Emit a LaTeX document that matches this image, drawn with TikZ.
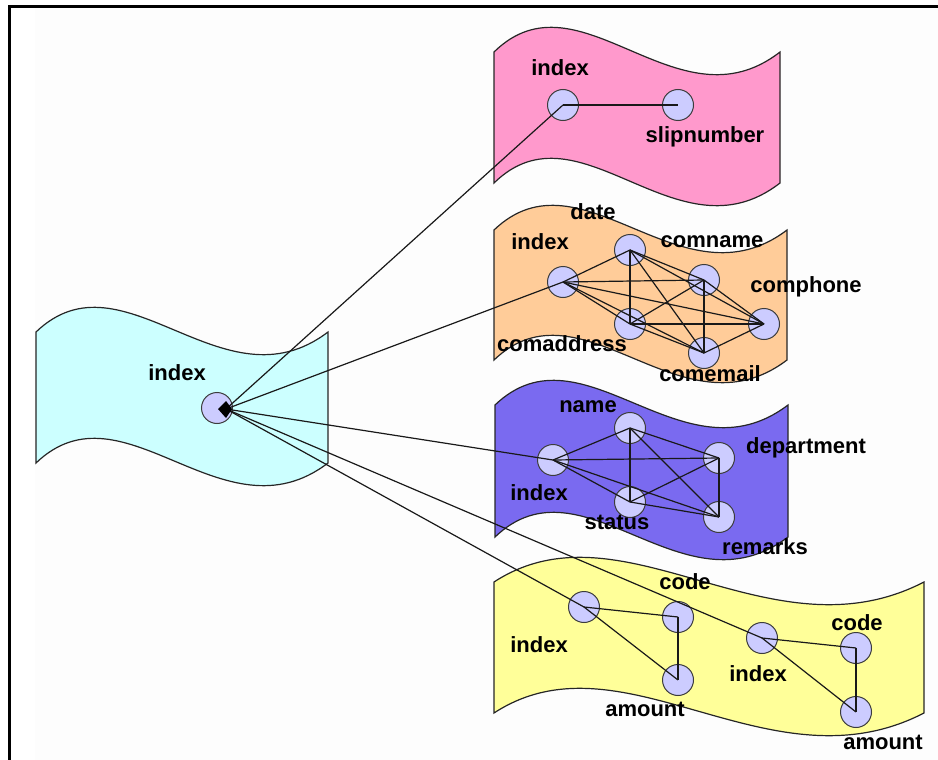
\documentclass[tikz,border=0pt]{standalone}
\usepackage{fontspec}
\setmainfont{Liberation Sans}
\definecolor{nodefill}{RGB}{204,204,255}
\definecolor{nodeline}{RGB}{60,60,60}
\definecolor{flagpink}{RGB}{255,153,204}
\definecolor{flagorange}{RGB}{255,204,153}
\definecolor{flagviolet}{RGB}{122,106,240}
\definecolor{flagyellow}{RGB}{255,255,153}
\definecolor{flagcyan}{RGB}{204,255,255}
\definecolor{paper}{RGB}{253,253,253}
% wavy banner: left x, top-left y, width, height, fill colour
\newcommand\waveflag[5]{%
  \filldraw[flagline,fill=#5] (#1,#2)
    .. controls ({#1+#3*0.3},{#2-84}) and ({#1+#3*0.64},{#2+80}) .. ({#1+#3},#2)
    -- ({#1+#3},{#2+#4})
    .. controls ({#1+#3*0.64},{#2+#4+80}) and ({#1+#3*0.3},{#2+#4-84}) .. (#1,{#2+#4})
    -- cycle;}
\begin{document}
\begin{tikzpicture}[x=1pt,y=-1pt,
  circ/.style={circle,minimum size=31pt,inner sep=0pt,fill=nodefill,draw=nodeline,line width=1pt},
  lbl/.style={font=\fontsize{22}{26}\selectfont\bfseries,inner sep=0pt},
  link/.style={line width=1.2pt,black!90},
  flagline/.style={draw=black!85,line width=1.2pt}]
\useasboundingbox (0,0) rectangle (938,760);
\fill[white] (0,0) rectangle (938,760);
\fill[paper] (35,8) rectangle (938,760);
% frame
\draw[line width=3pt] (9.5,760) -- (9.5,6.5) -- (938,6.5);

% banners
\waveflag{36}{332}{292}{131}{flagcyan}
\waveflag{494}{52}{286}{131}{flagpink}
\waveflag{494}{230}{293}{130}{flagorange}
\waveflag{495}{405}{293}{132}{flagviolet}
\waveflag{494}{582}{430}{131}{flagyellow}

% source table
\node[circ] (src) at (217,408) {};
\node[lbl] (srcL) at (177,373) {index};
\coordinate (hub) at (226,409);

% slip table
\node[circ] (pIdx) at (563,105) {};
\node[circ] (pSlip) at (678,105) {};
\node[lbl] (pIdxL) at (560,68) {index};
\node[lbl] (pSlipL) at (705,137) {slipnumber};

% company table
\node[circ] (oIdx) at (563,282) {};
\node[circ] (oDate) at (630,250) {};
\node[circ] (oName) at (704,280) {};
\node[circ] (oAddr) at (630,324) {};
\node[circ] (oMail) at (704,353) {};
\node[circ] (oPhone) at (764,324) {};
\node[lbl] (oIdxL) at (540,242) {index};
\node[lbl] (oDateL) at (593,212) {date};
\node[lbl] (oNameL) at (712,242) {comname};
\node[lbl] (oPhoneL) at (806,287) {comphone};
\node[lbl] (oAddrL) at (562,344) {comaddress};
\node[lbl] (oMailL) at (710,374) {comemail};

% staff table
\node[circ] (vIdx) at (553,460) {};
\node[circ] (vName) at (630,428) {};
\node[circ] (vDept) at (719,458) {};
\node[circ] (vStat) at (630,502) {};
\node[circ] (vRem) at (719,517) {};
\node[lbl] (vNameL) at (588,407) {name};
\node[lbl] (vDeptL) at (806,448) {department};
\node[lbl] (vIdxL) at (539,493) {index};
\node[lbl] (vStatL) at (617,522) {status};
\node[lbl] (vRemL) at (765,547) {remarks};

% amount tables
\node[circ] (yIdxA) at (584,607) {};
\node[circ] (yCodeA) at (678,617) {};
\node[circ] (yAmtA) at (678,680) {};
\node[circ] (yIdxB) at (762,638) {};
\node[circ] (yCodeB) at (856,648) {};
\node[circ] (yAmtB) at (856,712) {};
\node[lbl] (yCodeAL) at (685,582) {code};
\node[lbl] (yIdxAL) at (539,645) {index};
\node[lbl] (yAmtAL) at (645,709) {amount};
\node[lbl] (yIdxBL) at (758,674) {index};
\node[lbl] (yCodeBL) at (857,623) {code};
\node[lbl] (yAmtBL) at (883,742) {amount};

% links inside the tables
\draw[link] (pIdx.center) -- (pSlip.center);
\foreach \a/\b in {oIdx/oDate,oIdx/oName,oIdx/oPhone,oIdx/oAddr,oIdx/oMail,
  oDate/oName,oDate/oPhone,oDate/oAddr,oDate/oMail,
  oName/oAddr,oName/oMail,oName/oPhone,
  oAddr/oPhone,oAddr/oMail,oMail/oPhone}
  \draw[link] (\a.center) -- (\b.center);
\foreach \a/\b in {vIdx/vName,vIdx/vDept,vIdx/vStat,vIdx/vRem,
  vName/vDept,vName/vStat,vName/vRem,vDept/vStat,vDept/vRem,vStat/vRem}
  \draw[link] (\a.center) -- (\b.center);
\foreach \a/\b in {yIdxA/yCodeA,yCodeA/yAmtA,yIdxA/yAmtA,
  yIdxB/yCodeB,yCodeB/yAmtB,yIdxB/yAmtB}
  \draw[link] (\a.center) -- (\b.center);

% links from the source index
\foreach \t in {pIdx,oIdx,vIdx,yIdxA,yIdxB}
  \draw[link] (hub) -- (\t.center);
\fill[black] (218,409) -- (226,401) -- (232,409) -- (226,418) -- cycle;
\end{tikzpicture}
\end{document}
